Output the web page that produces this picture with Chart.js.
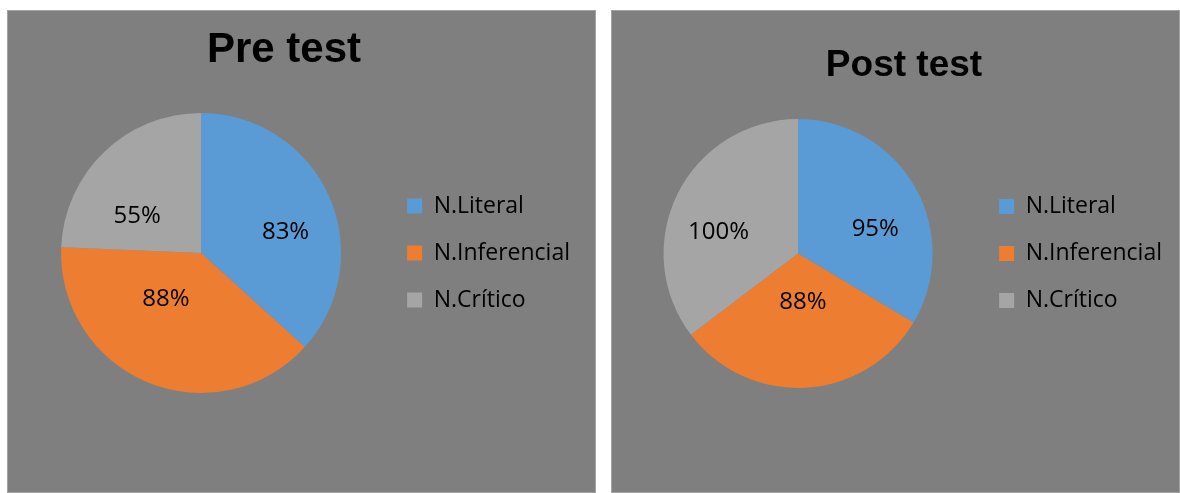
<!DOCTYPE html>
<html>
<head>
<meta charset="utf-8">
<script src="https://cdn.jsdelivr.net/npm/chart.js@4.4.1/dist/chart.umd.min.js"></script>
<style>
  html, body { margin: 0; padding: 0; background: #ffffff; width: 1180px; height: 493px; overflow: hidden; }
  .panel { position: absolute; background: #7f7f7f; overflow: hidden; }
  .edge { position: absolute; left: 0; top: 0; right: 0; bottom: 0; box-shadow: inset 0 0 0 1px #a3a3a3; pointer-events: none; }
  #panelPre { left: 7px; top: 10px; width: 589px; height: 483px; }
  #panelPost { left: 611px; top: 10px; width: 569px; height: 483px; }
  .box { position: absolute; left: 0; top: 0; width: 100%; height: 100%; }
  .title { position: absolute; width: 400px; text-align: center; color: #000000; font-family: "Liberation Sans", Arial, sans-serif; font-weight: bold; line-height: 1; white-space: nowrap; }
  #titlePre { left: 77px; top: 17px; font-size: 42px; }
  #titlePost { left: 93px; top: 35px; font-size: 37px; }
</style>
</head>
<body>
<div class="panel" id="panelPre">
  <div class="box"><canvas id="chartPre"></canvas></div>
  <div class="title" id="titlePre"></div>
  <div class="edge"></div>
</div>
<div class="panel" id="panelPost">
  <div class="box"><canvas id="chartPost"></canvas></div>
  <div class="title" id="titlePost"></div>
  <div class="edge"></div>
</div>
<script>
// ---- data ----
const categories = ['N.Literal', 'N.Inferencial', 'N.Crítico'];
const preTestValues = [83, 88, 55];
const postTestValues = [95, 88, 100];
const preTitle = 'Pre test';
const postTitle = 'Post test';
const valueSuffix = '%';

// ---- styles ----
const sliceColors = ['#5b9bd5', '#ed7d31', '#a5a5a5'];
const textFont = '"Open Sans", "DejaVu Sans", sans-serif';

document.getElementById('titlePre').textContent = preTitle;
document.getElementById('titlePost').textContent = postTitle;

// data labels placed inside each slice, around its middle angle
const pieLabels = {
  id: 'pieLabels',
  afterDatasetsDraw(chart, args, opts) {
    const ctx = chart.ctx;
    const meta = chart.getDatasetMeta(0);
    const ds = chart.data.datasets[0];
    ctx.save();
    ctx.font = opts.font;
    ctx.fillStyle = opts.color;
    ctx.textAlign = 'center';
    ctx.textBaseline = 'middle';
    meta.data.forEach((arc, i) => {
      const p = arc.getProps(['x', 'y', 'startAngle', 'endAngle', 'outerRadius'], true);
      const mid = (p.startAngle + p.endAngle) / 2;
      const lx = p.x + Math.cos(mid) * p.outerRadius * opts.ratioX;
      const ly = p.y + Math.sin(mid) * p.outerRadius * opts.ratioY;
      ctx.fillText(ds.data[i] + valueSuffix, lx, ly);
    });
    ctx.restore();
  }
};

function makePie(canvasId, values, title, padding) {
  return new Chart(document.getElementById(canvasId), {
    type: 'pie',
    data: {
      labels: categories,
      datasets: [{ label: title, data: values, backgroundColor: sliceColors, borderWidth: 0, hoverOffset: 0 }]
    },
    options: {
      responsive: true,
      maintainAspectRatio: false,
      animation: false,
      layout: { padding: padding },
      plugins: {
        title: { display: false },
        legend: {
          display: true,
          position: 'right',
          align: 'center',
          fullSize: false,
          labels: {
            boxWidth: 15,
            boxHeight: 15,
            padding: 24,
            color: '#000000',
            font: { family: textFont, size: 23 }
          }
        },
        tooltip: { enabled: false },
        pieLabels: { font: '24px ' + textFont, color: '#000000', ratioX: 0.66, ratioY: 0.36 }
      }
    },
    plugins: [pieLabels]
  });
}

makePie('chartPre', preTestValues, preTitle, { left: 12, right: 16, top: 103, bottom: 100 });
makePie('chartPost', postTestValues, postTitle, { left: 10, right: 8, top: 109, bottom: 105 });
</script>
</body>
</html>
